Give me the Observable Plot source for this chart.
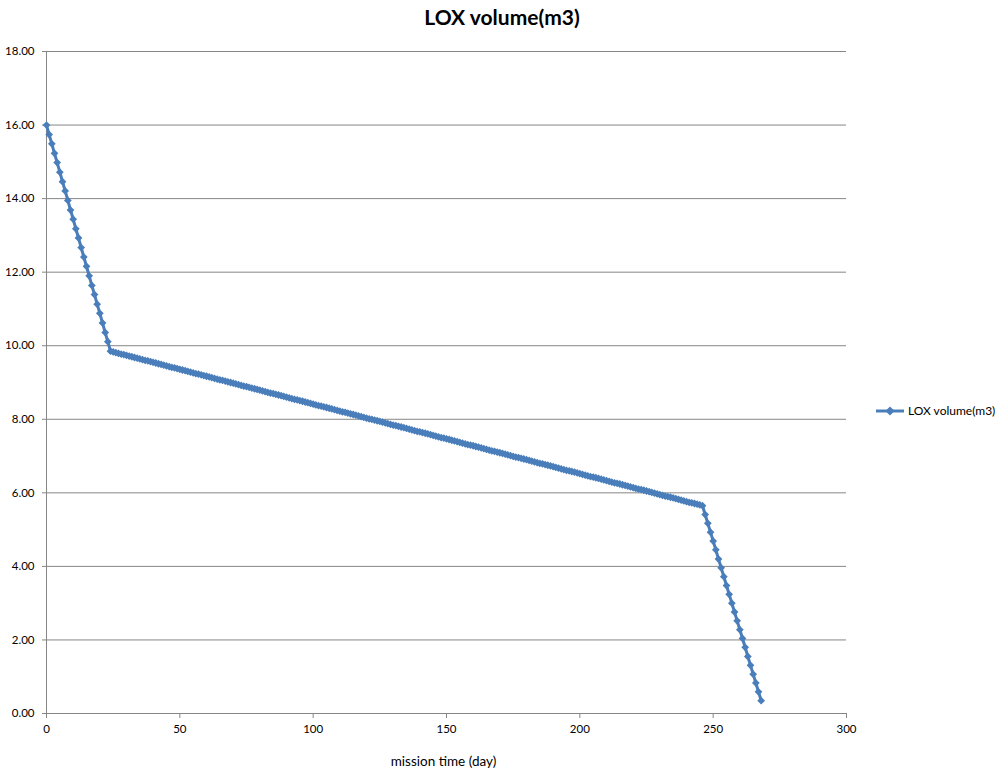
<!DOCTYPE html>
<html><head><meta charset="utf-8">
<script src="https://cdn.jsdelivr.net/npm/d3@7"></script>
<script src="https://cdn.jsdelivr.net/npm/@observablehq/plot@0.6"></script>
<style>
body{margin:0;background:#fff;font-family:Lato,"Open Sans",sans-serif;}
#wrap{position:relative;width:1006px;height:779px;overflow:hidden;}
#title{position:absolute;left:0;top:4px;width:1004px;text-align:center;font-weight:bold;font-size:21px;color:#000;}
#legend{position:absolute;left:876px;top:403px;font-size:12px;display:flex;align-items:center;color:#000;}
#chart{position:absolute;left:0;top:0;}
</style></head>
<body><div id="wrap"><div id="chart"></div><div id="title"></div><div id="legend"></div></div>
<script>
const title = "LOX volume(m3)";
const seriesName = "LOX volume(m3)";
const xLabel = "mission time (day)";
const xTicks = [0, 50, 100, 150, 200, 250, 300];
const yTicks = [0, 2, 4, 6, 8, 10, 12, 14, 16, 18];
const color = "#4A7EBB";

// LOX volume (m3), one reading per mission day starting at day 0
const loxVolume = [
  16.00, 15.74, 15.49, 15.23, 14.98, 14.72, 14.46, 14.21, 13.95, 13.69,
  13.44, 13.18, 12.93, 12.67, 12.41, 12.16, 11.90, 11.64, 11.39, 11.13,
  10.88, 10.62, 10.36, 10.11, 9.85,
  9.83, 9.81, 9.79, 9.77, 9.76, 9.74, 9.72, 9.70, 9.68, 9.66,
  9.64, 9.62, 9.60, 9.59, 9.57, 9.55, 9.53, 9.51, 9.49, 9.47,
  9.45, 9.43, 9.41, 9.40, 9.38, 9.36, 9.34, 9.32, 9.30, 9.28,
  9.26, 9.24, 9.23, 9.21, 9.19, 9.17, 9.15, 9.13, 9.11, 9.09,
  9.07, 9.06, 9.04, 9.02, 9.00, 8.98, 8.96, 8.94, 8.92, 8.90,
  8.89, 8.87, 8.85, 8.83, 8.81, 8.79, 8.77, 8.75, 8.73, 8.71,
  8.70, 8.68, 8.66, 8.64, 8.62, 8.60, 8.58, 8.56, 8.54, 8.53,
  8.51, 8.49, 8.47, 8.45, 8.43, 8.41, 8.39, 8.37, 8.36, 8.34,
  8.32, 8.30, 8.28, 8.26, 8.24, 8.22, 8.20, 8.19, 8.17, 8.15,
  8.13, 8.11, 8.09, 8.07, 8.05, 8.03, 8.01, 8.00, 7.98, 7.96,
  7.94, 7.92, 7.90, 7.88, 7.86, 7.84, 7.83, 7.81, 7.79, 7.77,
  7.75, 7.73, 7.71, 7.69, 7.67, 7.66, 7.64, 7.62, 7.60, 7.58,
  7.56, 7.54, 7.52, 7.50, 7.49, 7.47, 7.45, 7.43, 7.41, 7.39,
  7.37, 7.35, 7.33, 7.31, 7.30, 7.28, 7.26, 7.24, 7.22, 7.20,
  7.18, 7.16, 7.14, 7.13, 7.11, 7.09, 7.07, 7.05, 7.03, 7.01,
  6.99, 6.97, 6.96, 6.94, 6.92, 6.90, 6.88, 6.86, 6.84, 6.82,
  6.80, 6.79, 6.77, 6.75, 6.73, 6.71, 6.69, 6.67, 6.65, 6.63,
  6.61, 6.60, 6.58, 6.56, 6.54, 6.52, 6.50, 6.48, 6.46, 6.44,
  6.43, 6.41, 6.39, 6.37, 6.35, 6.33, 6.31, 6.29, 6.27, 6.26,
  6.24, 6.22, 6.20, 6.18, 6.16, 6.14, 6.12, 6.10, 6.09, 6.07,
  6.05, 6.03, 6.01, 5.99, 5.97, 5.95, 5.93, 5.91, 5.90, 5.88,
  5.86, 5.84, 5.82, 5.80, 5.78, 5.76, 5.74, 5.73, 5.71, 5.69,
  5.67, 5.65,
  5.41, 5.17, 4.93, 4.69, 4.45, 4.20, 3.96, 3.72, 3.48, 3.24,
  3.00, 2.76, 2.52, 2.28, 2.04, 1.80, 1.55, 1.31, 1.07, 0.83,
  0.59, 0.35
];
const days = loxVolume.map((_, i) => i);
const data = days.map((d, i) => ({day: d, v: loxVolume[i]}));

const gray = "#868686";
const chart = Plot.plot({
  width: 1006, height: 779,
  marginLeft: 46, marginRight: 160, marginTop: 51, marginBottom: 66,
  style: {fontFamily: "Lato, 'Open Sans', sans-serif", fontSize: "11.5px", color: "#000", background: "#fff", overflow: "visible"},
  x: {domain: [0, 300], label: null},
  y: {domain: [0, 18], label: null},
  marks: [
    Plot.gridY(yTicks, {stroke: gray, strokeOpacity: 1, strokeWidth: 1}),
    Plot.ruleX([0], {stroke: gray, strokeWidth: 1}),
    Plot.ruleY([0], {stroke: gray, strokeWidth: 1}),
    Plot.axisY(yTicks, {tickFormat: d => d.toFixed(2), tickSize: 4, tickPadding: 8, stroke: gray, label: null, fill: "#000"}),
    Plot.axisX(xTicks, {tickSize: 5, tickPadding: 6, stroke: gray, label: null, fill: "#000"}),
    Plot.line(data, {x: "day", y: "v", stroke: color, strokeWidth: 3}),
    Plot.dot(data, {x: "day", y: "v", symbol: "diamond2", r: 3.5, fill: color, stroke: "none"}),
    Plot.text([xLabel], {frameAnchor: "bottom", dy: 52, dx: -3, fill: "#000", fontSize: 13.5})
  ]
});
document.getElementById("chart").appendChild(chart);
document.getElementById("title").textContent = title;
document.getElementById("legend").innerHTML =
  `<svg width="30" height="10" style="margin-right:2px"><line x1="0" y1="5" x2="28" y2="5" stroke="${color}" stroke-width="3"/><path d="M14,0.5 L18.5,5 L14,9.5 L9.5,5 Z" fill="${color}"/></svg><span>${seriesName}</span>`;
</script>
</body></html>
